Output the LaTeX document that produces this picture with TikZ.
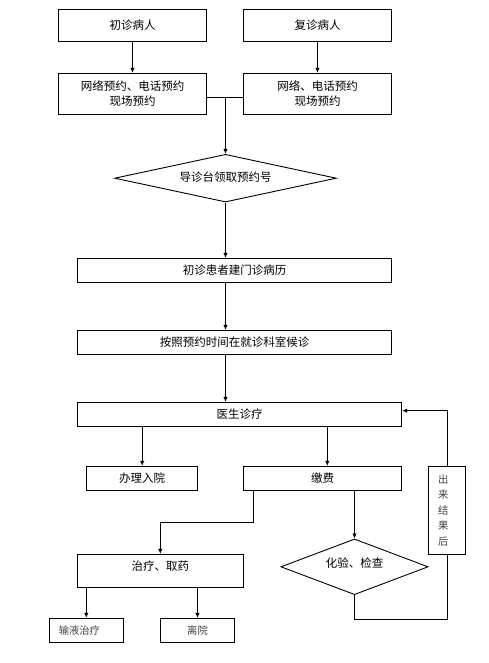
\documentclass[tikz,border=0pt]{standalone}
\usepackage{fontspec}
\setmainfont{Noto Sans CJK SC}
\usetikzlibrary{arrows.meta,shapes.geometric,calc}
\begin{document}
\begin{tikzpicture}[x=1pt,y=-1pt,
  box/.style={draw,line width=0.9pt,inner sep=0pt,font=\fontsize{11.5}{15}\selectfont,align=center},
  dia/.style={draw,diamond,line width=0.9pt,inner sep=0pt,font=\fontsize{11.5}{15}\selectfont},
  small/.style={font=\fontsize{10.3}{15.5}\selectfont,text=black!75},
  line/.style={line width=0.9pt},
  arr/.style={line, -{Latex[length=5pt,width=4.5pt]}}]
\useasboundingbox (0,0) rectangle (488,663);
\node[box,minimum width=148.4pt,minimum height=32pt] (a) at (132.5,25.3) {初诊病人};
\node[box,minimum width=148.4pt,minimum height=32pt] (b) at (317.5,25.3) {复诊病人};
\node[box,minimum width=148.4pt,minimum height=41pt] (c) at (132.5,93.8) {网络预约、电话预约\\现场预约};
\node[box,minimum width=148.4pt,minimum height=41pt] (d) at (317.5,93.8) {网络、电话预约\\现场预约};
\node[dia,aspect=4.6,minimum width=221.7pt,minimum height=47.7pt,text depth=4pt] (e) at (225.5,178.2) {导诊台领取预约号};
\node[box,minimum width=314.4pt,minimum height=24pt] (f) at (234.5,270.3) {初诊患者建门诊病历};
\node[box,minimum width=314.4pt,minimum height=24pt] (g) at (234.5,342.3) {按照预约时间在就诊科室候诊};
\node[box,minimum width=324.4pt,minimum height=24pt] (h) at (239.5,414.3) {医生诊疗};
\node[box,minimum width=111.4pt,minimum height=24pt] (i) at (142.2,478.3) {办理入院};
\node[box,minimum width=158.4pt,minimum height=24pt] (j) at (322.5,478.3) {缴费};
\node[box,small,minimum width=37.4pt,minimum height=88pt] (k) at (447.2,510.3) {\makebox[18pt][l]{出}\\\makebox[18pt][l]{来}\\\makebox[18pt][l]{结}\\\makebox[18pt][l]{果}\\\makebox[18pt][l]{后}};
\node[box,minimum width=166pt,minimum height=32.7pt,text depth=9.5pt] (l) at (160.3,570.7) {治疗、取药};
\node[dia,aspect=2.64,minimum width=147.3pt,minimum height=55.7pt,text depth=8.5pt] (m) at (354.5,566.8) {化验、检查};
\node[box,small,minimum width=74pt,minimum height=24pt] (n) at (86.3,630.3) {\makebox[55pt][l]{输液治疗}};
\node[box,small,minimum width=74pt,minimum height=24pt] (o) at (197.5,630.3) {离院};
\coordinate (j1) at (225.5,97.7);
\coordinate (x2) at (327.3,0);
\coordinate (x3) at (253.3,522.3);
\coordinate (y4) at (0,619);
\coordinate (y5) at (0,410.7);
\draw[arr] (a) -- (c);
\draw[arr] (b) -- (d);
\draw[line] (c.east |- j1) -- (d.west |- j1);
\draw[arr] (j1) -- (e.north);
\draw[arr] (e.south) -- (e.south |- f.north);
\draw[arr] (f.south -| e.south) -- (g.north -| e.south);
\draw[arr] (g.south -| e.south) -- (h.north -| e.south);
\draw[arr] (h.south -| i.north) -- (i.north);
\draw[arr] (h.south -| x2) -- (j.north -| x2);
\draw[arr] (j.south -| x3) -- (x3) -| (l.north);
\draw[arr] (j.south -| m.north) -- (m.north);
\draw[line] (m.south) -- (m.south |- y4) -| (k.south);
\draw[arr] (k.north) -- (k.north |- y5) -- (h.east |- y5);
\draw[arr] (l.south -| n.north) -- (n.north);
\draw[arr] (l.south -| o.north) -- (o.north);
\end{tikzpicture}
\end{document}
